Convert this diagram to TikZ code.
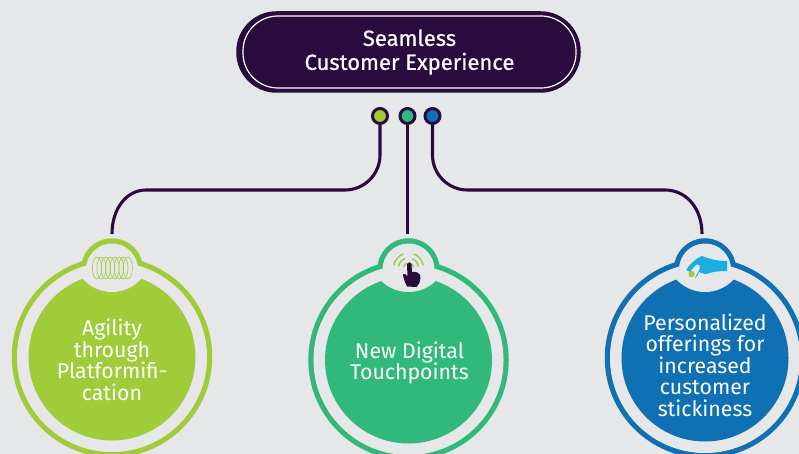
\documentclass[tikz,border=0pt]{standalone}
\usepackage{fontspec}
\setmainfont{Fira Sans}
\newfontfamily\medfont[RawFeature={embolden=0.6}]{Fira Sans}
\definecolor{bg}{HTML}{E6E7E9}
\definecolor{dark}{HTML}{2A0B3E}
\definecolor{cA}{HTML}{A0CC3A}
\definecolor{cB}{HTML}{31B97B}
\definecolor{cC}{HTML}{0F70B3}
\definecolor{cD}{HTML}{1BAEE3}
\tikzset{
  wire/.style={draw=dark,line width=3.1pt},
  dotn/.style={circle,draw=dark,line width=3pt,minimum size=15pt,inner sep=0pt},
  lab/.style={text=white,align=center,font=\fontsize{21.3}{21.5}\selectfont},
}
\newcommand{\badge}[4]{% x, disk-cy, colour, bump-cy
  \begin{scope}[shift={(#1,0)}]
  \draw[#3,line width=5.5pt] (0,#2) circle[radius=97.5];
  \draw[#3,line width=5.5pt] (0,#4) circle[radius=28.5];
  \fill[bg] (0,#2) circle[radius=95];
  \fill[bg] (0,#4) circle[radius=26];
  \fill[#3] (0,#2) circle[radius=83.5];
  \begin{scope}
    \clip (0,#2) circle[radius=84];
    \fill[bg] (0,#4-16.5) circle[radius=39];
  \end{scope}
  \end{scope}
}
\begin{document}
\begin{tikzpicture}[x=1pt,y=-1pt]
\useasboundingbox[fill=bg] (0,0) rectangle (799,454);
\begin{scope}
\clip (0,0) rectangle (799,454);
\badge{112}{357}{cA}{269.5}
\badge{408.5}{360}{cB}{269.5}
\badge{705}{358}{cC}{269.5}
\end{scope}
% spring
\foreach \i in {0,...,7}
  \draw[cA,line width=0.6pt] (97+\i*4.4,268) ellipse[x radius=4.6,y radius=11];
% touch icon
\foreach \r in {5,10,15}{
  \draw[cA,line width=1.4pt] (408.5,268) ++(190:\r) arc[start angle=190,end angle=250,radius=\r];
  \draw[cA,line width=1.4pt] (408.5,268) ++(290:\r) arc[start angle=290,end angle=350,radius=\r];
}
\fill[dark] (407,264) .. controls (408,261.5) and (411,261.5) .. (411.5,264) -- (412,272)
  .. controls (416,271) and (421,273) .. (420.5,278) .. controls (420,282) and (419,285) .. (416.5,287)
  -- (407,286.5) .. controls (405,282) and (403,278) .. (403,274) .. controls (404,273) and (406,274) .. (407.5,277) -- cycle;
% blue hand
\fill[cD] (686,270) .. controls (690,264) and (696,258) .. (702,256)
  .. controls (712,260) and (720,261) .. (727,261) -- (727,271)
  .. controls (718,271) and (712,272) .. (706,274) .. controls (703,274) and (701,273) .. (699,272)
  .. controls (698,275) and (697,277) .. (695,278) .. controls (696,275) and (701,270) .. (699.5,265)
  .. controls (698,263.5) and (696,264.5) .. (694,267) .. controls (692,269) and (691,270) .. (690,272) -- cycle;
\fill[cA] (691.5,274) circle[radius=3.2];
% top pill
\node[draw=dark,fill=dark,rounded corners=39pt,line width=2.5pt,minimum width=342pt,minimum height=79pt,inner sep=0pt] (top) at (408.5,52) {};
\node[draw=white,rounded corners=35pt,line width=1.2pt,minimum width=333pt,minimum height=72pt,inner sep=0pt,
  text=white,align=center,font=\medfont\fontsize{22}{24}\selectfont] (topin) at (409.5,52) {\raisebox{-1pt}{Seamless}\\\raisebox{-1pt}{Customer Experience}};
% dots
\node[dotn,fill=cA] (d1) at (380,116) {};
\node[dotn,fill=cB] (d2) at (407.5,116) {};
\node[dotn,fill=cC] (d3) at (432.5,116) {};
\coordinate (e1) at (112,234);
\coordinate (e2) at (407.5,234);
\coordinate (e3) at (702,234);
\draw[wire] (d1.south) -- (380,155) arc[start angle=0,end angle=90,radius=35] -- (146,190)
  .. controls (127,190) and (112,208) .. (e1);
\draw[wire] (d2.south) -- (e2);
\draw[wire] (d3.south) -- (432.5,155) arc[start angle=180,end angle=90,radius=35] -- (665,190)
  .. controls (686,190) and (702,208) .. (e3);
% labels
\node[lab] (l1) at (112,360) {Agility\\through\\Platformifi-\\cation};
\node[lab] (l2) at (409.5,363) {New Digital\\Touchpoints};
\node[lab] (l3) at (705,365) {Personalized\\offerings for\\increased\\customer\\stickiness};
\end{tikzpicture}
\end{document}
